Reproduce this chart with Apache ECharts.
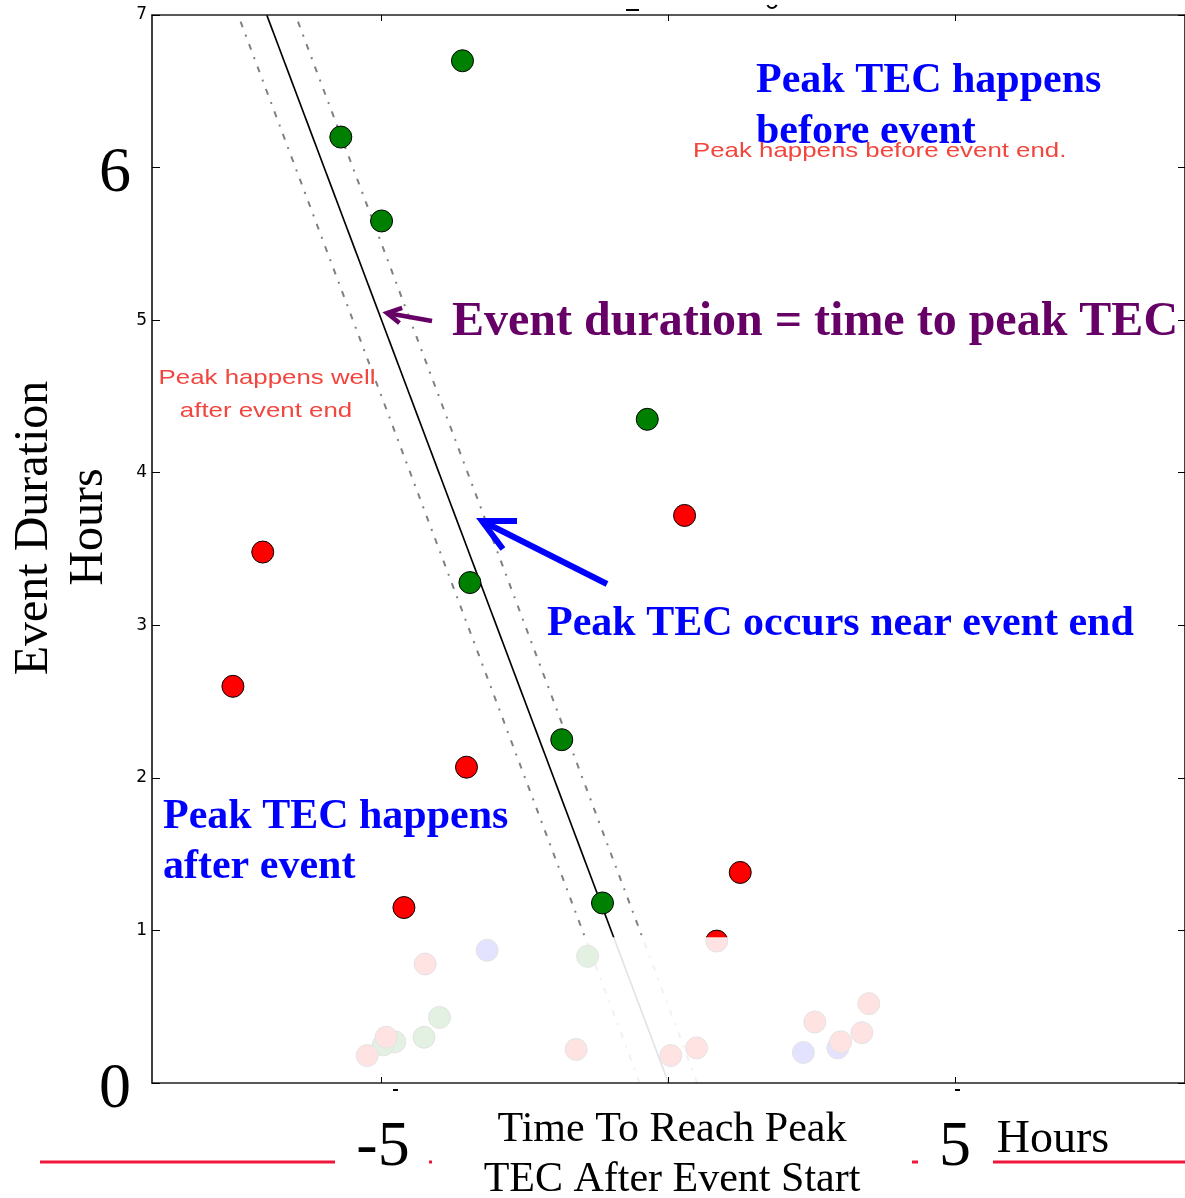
<!DOCTYPE html>
<html>
<head>
<meta charset="utf-8">
<script src="https://cdn.jsdelivr.net/npm/echarts@6/dist/echarts.min.js"></script>
<style>
html, body { margin: 0; padding: 0; background: #fff; }
#main { width: 1185px; height: 1198px; }
</style>
</head>
<body>
<div id="main"></div>
<script>
// x = hours from event start to peak TEC, y = event duration (hours)
var greenPts = [[-3.59, 6.70], [-5.71, 6.20], [-5.00, 5.65], [-0.37, 4.35], [-3.46, 3.28], [-1.86, 2.25], [-1.15, 1.18],
    [-1.41, 0.83], [-3.99, 0.43], [-4.26, 0.30], [-4.77, 0.27], [-4.97, 0.25]];
var bluePts = [[-3.16, 0.87], [2.95, 0.23], [2.35, 0.20]];
var redPts = [[-7.07, 3.48], [-7.59, 2.60], [-3.52, 2.07], [-4.61, 1.15], [0.28, 3.72], [1.25, 1.38], [0.84, 0.93],
    [-4.24, 0.78], [-4.92, 0.30], [-5.25, 0.18], [-1.61, 0.22], [0.04, 0.18], [0.49, 0.23],
    [3.49, 0.52], [2.55, 0.40], [3.37, 0.33], [3.00, 0.27]];

var guideDur = [0, 7];      // duration range of the "duration = time to peak" guide
var bandHalf = 0.5;         // half width of the dotted band
var fadeBelow = 0.955;      // short events are greyed out
var xTicks = [-5, 0, 5];
var xBigLabels = ['-5', '5'];
var bigYLabels = [0, 6];

function guide(offset) {
    return guideDur.map(function (d) { return [-d + offset, d]; });
}

function arrow(tail, tip, color, width, headLen, headAng) {
    var ang = Math.atan2(tail[1] - tip[1], tail[0] - tip[0]);
    var p1 = [tip[0] + headLen * Math.cos(ang + headAng), tip[1] + headLen * Math.sin(ang + headAng)];
    var p2 = [tip[0] + headLen * Math.cos(ang - headAng), tip[1] + headLen * Math.sin(ang - headAng)];
    return [
        { type: 'polyline', z: 30, shape: { points: [tail, tip] }, style: { stroke: color, lineWidth: width, fill: null } },
        { type: 'polyline', z: 30, shape: { points: [p1, tip, p2] }, style: { stroke: color, lineWidth: width, fill: null, lineJoin: 'miter' } }
    ];
}

function txt(x, y, s, font, color, align, sx) {
    return {
        type: 'text', x: x, y: y, z: 30, scaleX: sx || 1,
        style: { text: s, font: font, fill: color, align: align || 'left', verticalAlign: 'middle' }
    };
}

var serifB42 = 'bold 42px "Liberation Serif"';
var redSans = '21px "Liberation Sans"';
var redCol = '#f2453d';
var lineRed = '#f0163a';

var graphics = [
    txt(756, 81, 'Peak TEC happens', serifB42, '#0000ff'),
    txt(756, 132, 'before event', serifB42, '#0000ff'),
    txt(693, 151, 'Peak happens before event end.', redSans, redCol, 'left', 1.23),
    txt(267, 378, 'Peak happens well', redSans, redCol, 'center', 1.23),
    txt(266, 411, 'after event end', redSans, redCol, 'center', 1.23),
    txt(452, 323, 'Event duration = time to peak TEC', 'bold 48px "Liberation Serif"', '#660066'),
    txt(547, 624, 'Peak TEC occurs near event end', serifB42, '#0000ff'),
    txt(163, 817, 'Peak TEC happens', serifB42, '#0000ff'),
    txt(163, 867, 'after event', serifB42, '#0000ff'),
    // axis titles
    txt(672, 1130, 'Time To Reach Peak', '42px "Liberation Serif"', '#000', 'center'),
    txt(672, 1180, 'TEC After Event Start', '42px "Liberation Serif"', '#000', 'center'),
    txt(1053, 1140, 'Hours', '46px "Liberation Serif"', '#000', 'center'),
    txt(383, 1148, xBigLabels[0], '64px "Liberation Serif"', '#000', 'center'),
    txt(955, 1148, xBigLabels[1], '64px "Liberation Serif"', '#000', 'center'),
    {
        type: 'text', x: 34, y: 528, rotation: Math.PI / 2, z: 30,
        style: { text: 'Event Duration', font: '48px "Liberation Serif"', fill: '#000', align: 'center', verticalAlign: 'middle' }
    },
    {
        type: 'text', x: 89, y: 527, rotation: Math.PI / 2, z: 30,
        style: { text: 'Hours', font: '48px "Liberation Serif"', fill: '#000', align: 'center', verticalAlign: 'middle' }
    },
    // red rule under the x title
    { type: 'line', z: 5, shape: { x1: 40, y1: 1162, x2: 335, y2: 1162 }, style: { stroke: lineRed, lineWidth: 3 } },
    { type: 'line', z: 5, shape: { x1: 429, y1: 1162, x2: 432, y2: 1162 }, style: { stroke: lineRed, lineWidth: 3 } },
    { type: 'line', z: 5, shape: { x1: 912, y1: 1162, x2: 918, y2: 1162 }, style: { stroke: lineRed, lineWidth: 3 } },
    { type: 'line', z: 5, shape: { x1: 993, y1: 1162, x2: 1185, y2: 1162 }, style: { stroke: lineRed, lineWidth: 3 } },
    // stubs of hidden tick labels and the cut-off title
    { type: 'rect', z: 5, shape: { x: 393, y: 1089, width: 5, height: 2 }, style: { fill: '#000' } },
    { type: 'rect', z: 5, shape: { x: 955, y: 1089, width: 5, height: 2 }, style: { fill: '#000' } },
    { type: 'rect', z: 5, shape: { x: 626, y: 9, width: 13, height: 2 }, style: { fill: '#000' } },
    { type: 'arc', z: 5, shape: { cx: 772, cy: 3, r: 5, startAngle: 0.4, endAngle: 2.7 }, style: { stroke: '#000', lineWidth: 2, fill: null } }
].concat(
    arrow([607, 584], [482, 521], '#0000ff', 6, 35, 0.464),
    arrow([432, 321], [387, 313], '#660066', 4.5, 16, 0.5)
);

var dom = document.getElementById('main');
var myChart = echarts.init(dom, null, { renderer: 'canvas' });

var dotStyle = { color: '#808080', width: 2, type: [6, 8, 2, 8] };

var option = {
    animation: false,
    grid: { left: 152, right: 0, top: 15, bottom: 115 },
    xAxis: [
        {
            type: 'value', min: -9, max: 9, z: 20,
            axisLine: { onZero: false, lineStyle: { color: '#222', width: 1.5 } },
            axisTick: { inside: true, length: 6, customValues: xTicks, lineStyle: { color: '#000' } },
            axisLabel: { show: false },
            splitLine: { show: false }
        },
        {
            type: 'value', min: -9, max: 9, position: 'top', z: 20,
            axisLine: { onZero: false, lineStyle: { color: '#222', width: 1.5 } },
            axisTick: { inside: true, length: 6, customValues: xTicks, lineStyle: { color: '#000' } },
            axisLabel: { show: false },
            splitLine: { show: false }
        }
    ],
    yAxis: [
        {
            type: 'value', min: 0, max: 7, interval: 1, z: 20,
            axisLine: { onZero: false, lineStyle: { color: '#000', width: 1.5 } },
            axisTick: { inside: true, length: 8, lineStyle: { color: '#000' } },
            splitLine: { show: false },
            axisLabel: {
                margin: 5,
                formatter: function (v) {
                    return bigYLabels.indexOf(v) >= 0 ? '{big|' + v + '}' : '{small|' + v + '}';
                },
                rich: {
                    big: { fontFamily: 'Liberation Serif', fontSize: 64, color: '#000', padding: [14, 16, 0, 0] },
                    small: { fontFamily: 'DejaVu Sans', fontSize: 17, color: '#000' }
                }
            }
        },
        {
            type: 'value', min: 0, max: 7, interval: 1, position: 'right', z: 20,
            axisLine: { onZero: false, lineStyle: { color: '#000', width: 1.5 } },
            axisTick: { inside: true, length: 7, lineStyle: { color: '#000' } },
            splitLine: { show: false },
            axisLabel: { show: false }
        }
    ],
    series: [
        { type: 'line', data: guide(0), showSymbol: false, z: 2, lineStyle: { color: '#000', width: 1.7 } },
        { type: 'line', data: guide(-bandHalf), showSymbol: false, z: 2, lineStyle: dotStyle },
        { type: 'line', data: guide(bandHalf), showSymbol: false, z: 2, lineStyle: dotStyle },
        {
            type: 'scatter', data: greenPts, symbolSize: 22, z: 3,
            itemStyle: { color: '#008000', borderColor: '#000', borderWidth: 1, opacity: 1 }
        },
        {
            type: 'scatter', data: bluePts, symbolSize: 22, z: 3,
            itemStyle: { color: '#0000ff', borderColor: '#000', borderWidth: 1, opacity: 1 }
        },
        {
            type: 'scatter', data: redPts, symbolSize: 22, z: 3,
            itemStyle: { color: '#ff0000', borderColor: '#000', borderWidth: 1, opacity: 1 }
        },
        {
            type: 'scatter', data: [], z: 10, silent: true,
            markArea: {
                silent: true, z: 10,
                itemStyle: { color: 'rgba(255,255,255,0.89)' },
                data: [[{ coord: [-9, 0] }, { coord: [9, fadeBelow] }]]
            }
        }
    ],
    graphic: graphics
};

if (option && typeof option === 'object') {
    myChart.setOption(option);
}
window.addEventListener('resize', myChart.resize);
</script>
</body>
</html>
